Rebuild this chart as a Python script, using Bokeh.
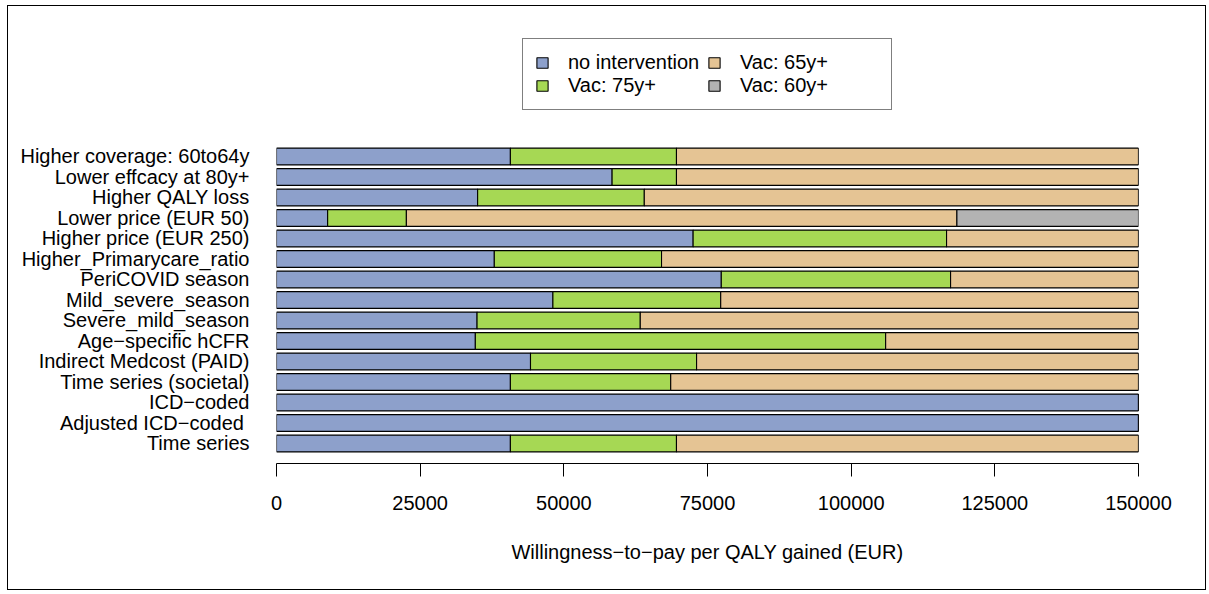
from bokeh.plotting import figure
from bokeh.models import (ColumnDataSource, Range1d, FixedTicker, Legend, LegendItem,
                          BasicTickFormatter)
from bokeh.embed import file_html
from bokeh.resources import INLINE

# Scenarios, listed top to bottom as displayed
scenarios = [
    "Higher coverage: 60to64y",
    "Lower effcacy at 80y+",
    "Higher QALY loss",
    "Lower price (EUR 50)",
    "Higher price (EUR 250)",
    "Higher_Primarycare_ratio",
    "PeriCOVID season",
    "Mild_severe_season",
    "Severe_mild_season",
    "Age\u2212specific hCFR",
    "Indirect Medcost (PAID)",
    "Time series (societal)",
    "ICD\u2212coded",
    "Adjusted ICD\u2212coded\u00a0",
    "Time series",
]

# Width (EUR of willingness-to-pay) of the range where each strategy is optimal
no_intervention = [40700, 58400, 35000, 8900, 72500, 37900, 77400, 48100, 34900, 34600, 44200, 40700, 150000, 150000, 40700]
vac_75 = [28900, 11200, 29000, 13700, 44100, 29100, 39900, 29200, 28400, 71400, 28900, 27900, 0, 0, 28900]
vac_65 = [80400, 80400, 86000, 95800, 33400, 83000, 32700, 72700, 86700, 44000, 76900, 81400, 0, 0, 80400]
vac_60 = [0, 0, 0, 31600, 0, 0, 0, 0, 0, 0, 0, 0, 0, 0, 0]

series_names = ["no intervention", "Vac: 75y+", "Vac: 65y+", "Vac: 60y+"]
colors = ["#8DA0CB", "#A6D854", "#E5C494", "#B3B3B3"]
x_ticks = [0, 25000, 50000, 75000, 100000, 125000, 150000]

n = len(scenarios)
ypos = [n - 1 - i for i in range(n)]
source = ColumnDataSource(dict(y=ypos, s0=no_intervention, s1=vac_75, s2=vac_65, s3=vac_60))

FONT = "Liberation Sans"
FS = "20px"

p = figure(width=1199, height=585, output_backend="svg", toolbar_location=None,
           x_range=Range1d(0, 150000), y_range=Range1d(-0.976, 20.634),
           min_border_left=268, min_border_right=69, min_border_top=14, min_border_bottom=128,
           styles={"border": "1.3px solid black", "margin-left": "7px", "margin-top": "5px"})
p.outline_line_color = None
p.xgrid.visible = False
p.ygrid.visible = False
p.background_fill_color = "white"
p.border_fill_color = "white"

rs = p.hbar_stack(["s0", "s1", "s2", "s3"], y="y", height=0.82, color=colors,
                  line_color="black", line_width=1.1, source=source)

# x axis
xa = p.xaxis[0]
xa.ticker = FixedTicker(ticks=x_ticks)
xa.formatter = BasicTickFormatter(use_scientific=False)
xa.axis_line_color = "black"
xa.axis_line_width = 1
xa.major_tick_in = 0
xa.major_tick_out = 13
xa.minor_tick_line_color = None
xa.major_label_text_font = FONT
xa.major_label_text_font_size = FS
xa.major_label_text_color = "black"
xa.major_label_standoff = 19
xa.axis_label = "Willingness\u2212to\u2212pay per QALY gained (EUR)"
xa.axis_label_text_font = FONT
xa.axis_label_text_font_size = FS
xa.axis_label_text_font_style = "normal"
xa.axis_label_text_color = "black"
xa.axis_label_standoff = 28

# y axis
ya = p.yaxis[0]
ya.ticker = FixedTicker(ticks=ypos)
ya.major_label_overrides = {yv: name for yv, name in zip(ypos, scenarios)}
ya.axis_line_color = None
ya.major_tick_line_color = None
ya.minor_tick_line_color = None
ya.major_tick_in = 0
ya.major_tick_out = 0
ya.major_label_standoff = 27
ya.major_label_text_font = FONT
ya.major_label_text_font_size = FS
ya.major_label_text_color = "black"

legend = Legend(items=[LegendItem(label=nm, renderers=[r]) for nm, r in zip(series_names, rs)],
                location=(246, 353), ncols=2, orientation="vertical")
legend.border_line_color = "black"
legend.border_line_width = 1
legend.label_text_font = FONT
legend.label_text_font_size = FS
legend.label_text_color = "black"
legend.glyph_width = 14
legend.glyph_height = 13
legend.label_standoff = 19
legend.label_width = 139
legend.padding = 12
legend.spacing = 0
legend.margin = 0
legend.background_fill_alpha = 1
p.add_layout(legend, "center")

open("out.html", "w").write(file_html(p, INLINE))
